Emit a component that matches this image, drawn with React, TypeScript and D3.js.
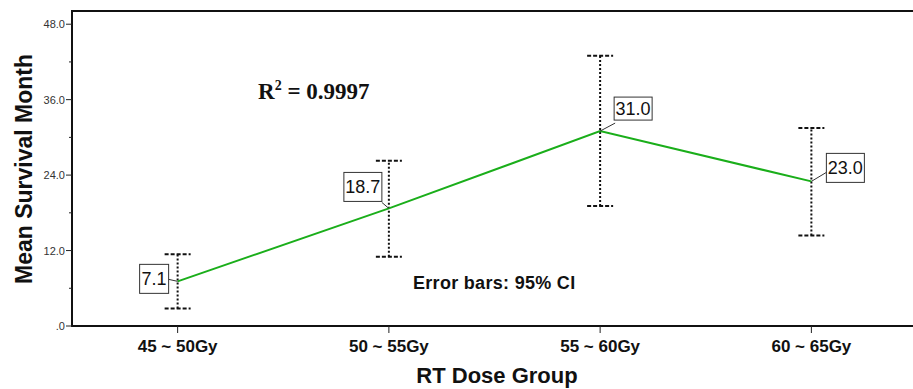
import React from "react";
import * as d3 from "d3";

const categories = ["45 ~ 50Gy", "50 ~ 55Gy", "55 ~ 60Gy", "60 ~ 65Gy"];
const means = [7.1, 18.7, 31.0, 23.0];
const ciLow = [2.8, 11.0, 19.1, 14.4];
const ciHigh = [11.4, 26.3, 43.0, 31.5];
const yTicks = [0, 12, 24, 36, 48];
const yMinorTicks = [6, 18, 30, 42];

// label box layout offsets (relative to point), width, height
const labelLayout = [
  { dx: -38, dy: -17, w: 29, h: 29, ax: -9, ay: -2 },
  { dx: -45, dy: -36, w: 38, h: 29, ax: -7, ay: -6 },
  { dx: 14, dy: -34, w: 38, h: 23, ax: 15, ay: -8 },
  { dx: 15, dy: -28, w: 38, h: 29, ax: 15, ay: -9 },
];

const W = 913;
const H = 389;
const left = 72;
const top = 11;
const bottom = 326;
const right = 917;

export default function App() {
  const x = d3.scalePoint<string>().domain(categories).range([left, right]).padding(0.5);
  const y = d3.scaleLinear().domain([0, 50.1]).range([bottom, top]);
  const line = d3
    .line<number>()
    .x((_, i) => x(categories[i]) as number)
    .y((d) => y(d));

  return (
    <svg
      width={W}
      height={H}
      style={{ position: "absolute", left: 0, top: 0, background: "#fff" }}
      fontFamily="Liberation Sans, Arial, sans-serif"
    >
      {/* frame */}
      <rect x={left} y={top} width={right - left + 10} height={bottom - top} fill="none" stroke="#111" strokeWidth={2} />

      {/* y ticks */}
      {yTicks.map((t) => (
        <g key={t}>
          <line x1={left - 6} x2={left} y1={y(t)} y2={y(t)} stroke="#222" strokeWidth={1} />
          <text x={left - 7} y={y(t) + 4} fontSize={11} textAnchor="end" fill="#333">
            {t === 0 ? ".0" : t.toFixed(1)}
          </text>
        </g>
      ))}
      {yMinorTicks.map((t) => (
        <line key={t} x1={left - 3} x2={left} y1={y(t)} y2={y(t)} stroke="#222" strokeWidth={1} />
      ))}

      {/* x ticks */}
      {categories.map((c) => (
        <g key={c}>
          <line x1={x(c)} x2={x(c)} y1={bottom} y2={bottom + 7} stroke="#222" strokeWidth={1} />
          <text x={x(c)} y={bottom + 26} fontSize={17} fontWeight="bold" textAnchor="middle" fill="#111">
            {c}
          </text>
        </g>
      ))}

      {/* axis titles */}
      <text x={497} y={383} fontSize={22} fontWeight="bold" textAnchor="middle" fill="#111">
        RT Dose Group
      </text>
      <text
        transform={`translate(32,${169}) rotate(-90)`}
        fontSize={23}
        fontWeight="bold"
        textAnchor="middle"
        fill="#111"
      >
        Mean Survival Month
      </text>

      {/* error bars */}
      {categories.map((c, i) => {
        const cx = x(c) as number;
        return (
          <g key={c} stroke="#111" strokeWidth={2} fill="none">
            <line x1={cx} x2={cx} y1={y(ciLow[i])} y2={y(ciHigh[i])} strokeDasharray="2,2" />
            <line x1={cx - 13} x2={cx + 13} y1={y(ciHigh[i])} y2={y(ciHigh[i])} strokeDasharray="4,2" />
            <line x1={cx - 13} x2={cx + 13} y1={y(ciLow[i])} y2={y(ciLow[i])} strokeDasharray="4,2" />
          </g>
        );
      })}

      {/* line */}
      <path d={line(means) || ""} fill="none" stroke="#1aae1a" strokeWidth={2} />

      {/* labels */}
      {categories.map((c, i) => {
        const cx = x(c) as number;
        const cy = y(means[i]);
        const L = labelLayout[i];
        return (
          <g key={c}>
            <line x1={cx} y1={cy} x2={cx + L.ax} y2={cy + L.ay} stroke="#333" strokeWidth={1} />
            <rect x={cx + L.dx} y={cy + L.dy} width={L.w} height={L.h} fill="#fff" stroke="#333" strokeWidth={1} />
            <text
              x={cx + L.dx + L.w / 2}
              y={cy + L.dy + L.h / 2 + 6.5}
              fontSize={18}
              textAnchor="middle"
              fill="#111"
            >
              {means[i].toFixed(1)}
            </text>
          </g>
        );
      })}

      {/* annotations */}
      <text x={258} y={99} fontFamily="Liberation Serif, Times New Roman, serif" fontSize={23} fontWeight="bold" fill="#111">
        R<tspan dy={-9} fontSize={14}>2</tspan>
        <tspan dy={9}> = 0.9997</tspan>
      </text>
      <text x={413} y={289} fontSize={18} fontWeight="bold" letterSpacing={0.3} fill="#111">
        Error bars: 95% CI
      </text>
    </svg>
  );
}
